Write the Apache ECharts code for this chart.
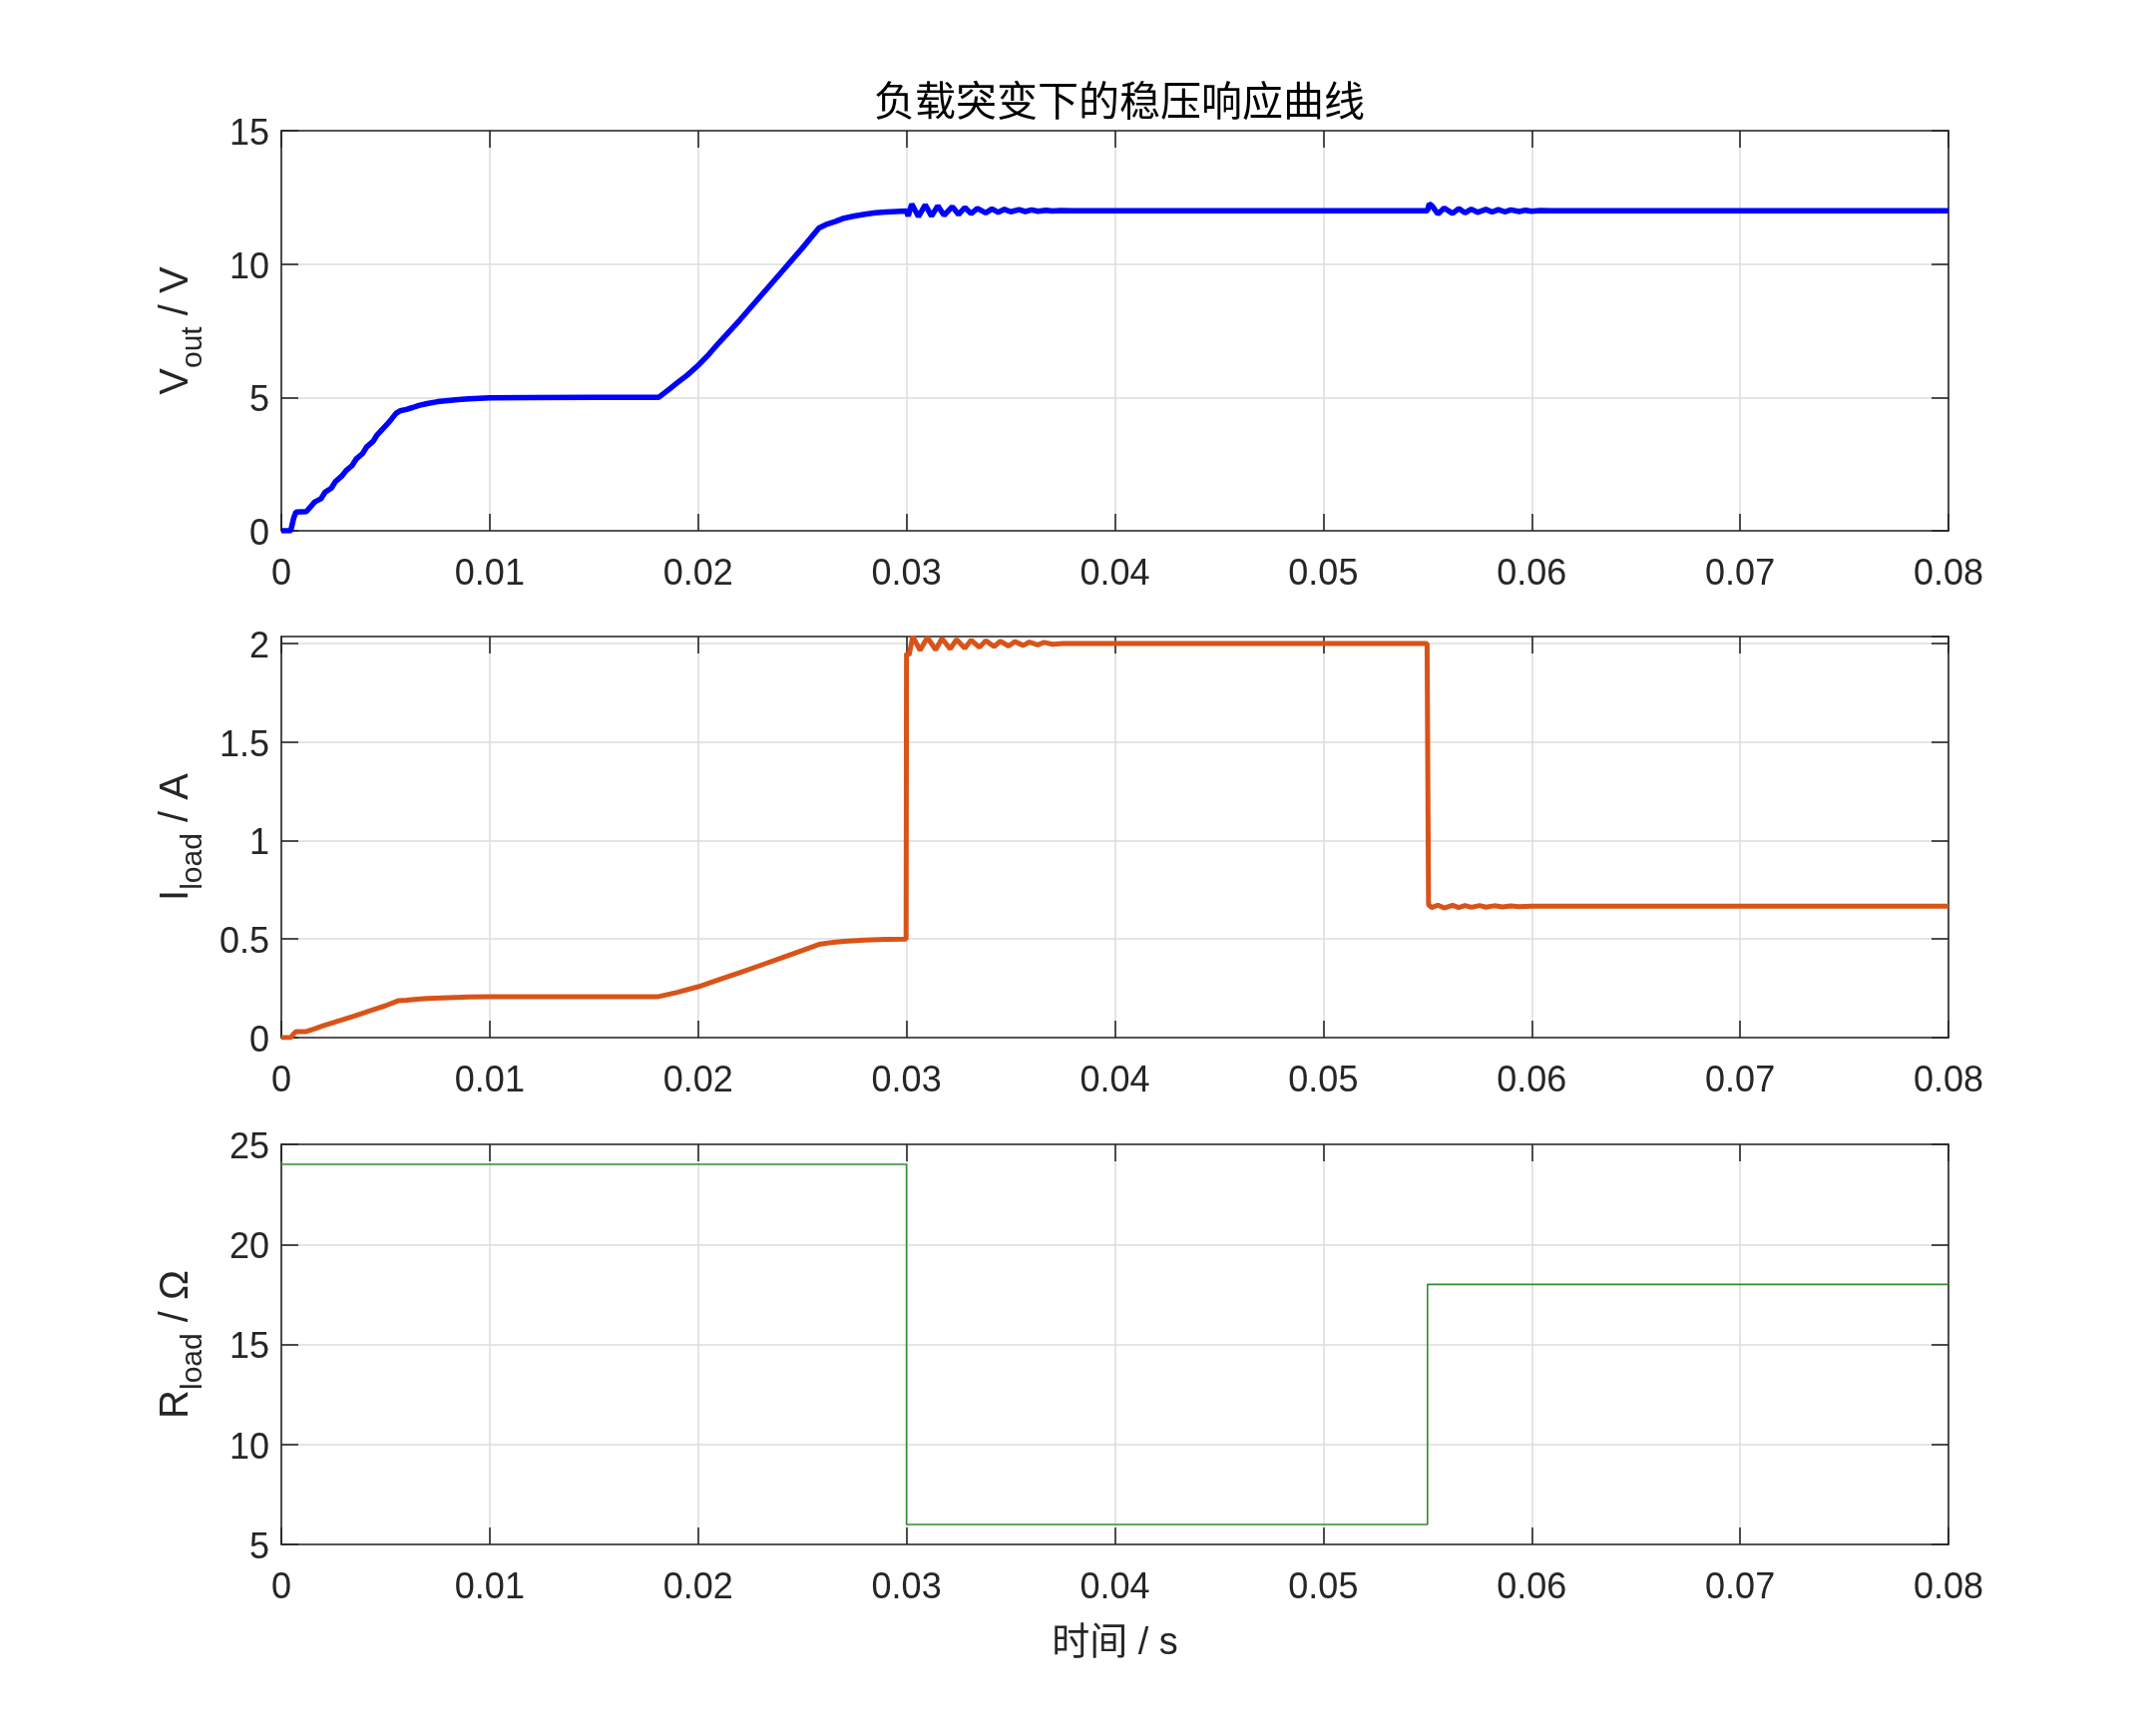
<!DOCTYPE html>
<html>
<head>
<meta charset="utf-8">
<script src="https://cdn.jsdelivr.net/npm/echarts@6/dist/echarts.min.js"></script>
<style>html,body{margin:0;padding:0;background:#fff;}#c{width:2160px;height:1740px;}</style>
</head>
<body>
<div id="c"></div>
<script>
// ---- data (time in s) ----
const titleText = '负载突变下的稳压响应曲线';
const xTicks = [0, 0.01, 0.02, 0.03, 0.04, 0.05, 0.06, 0.07, 0.08];

const tV = [0, 0.00045, 0.0006, 0.0007, 0.0012, 0.0014, 0.0016, 0.0019, 0.0021, 0.0024, 0.0026, 0.0029, 0.0031, 0.0034, 0.0036, 0.0039, 0.0041, 0.0044, 0.0046, 0.0049, 0.0052, 0.0055, 0.0057, 0.006, 0.0063, 0.0066, 0.007, 0.0075, 0.008, 0.0085, 0.009, 0.0095, 0.01, 0.012, 0.015, 0.0181,
  0.0186, 0.019, 0.0195, 0.02, 0.0205, 0.021, 0.022, 0.023, 0.024, 0.025, 0.0258, 0.0262, 0.0266, 0.027, 0.0275, 0.028, 0.0285, 0.029, 0.0295, 0.03,
  0.03008, 0.03025, 0.03057, 0.0309, 0.0312, 0.0315, 0.0318, 0.0322, 0.0325, 0.0328, 0.0331, 0.0334, 0.0338, 0.0341, 0.0344, 0.0347, 0.035, 0.0354, 0.0357, 0.036, 0.0363, 0.0367, 0.037, 0.0374, 0.038, 0.045, 0.055,
  0.05508, 0.0552, 0.0555, 0.0558, 0.0562, 0.0565, 0.0568, 0.0571, 0.0574, 0.0578, 0.0581, 0.0584, 0.0587, 0.059, 0.0594, 0.0597, 0.06, 0.0604, 0.061, 0.07, 0.08];
const vOut = [0, 0, 0.5, 0.7, 0.72, 0.9, 1.08, 1.2, 1.45, 1.6, 1.85, 2.05, 2.25, 2.45, 2.7, 2.9, 3.15, 3.35, 3.6, 3.85, 4.1, 4.4, 4.5, 4.55, 4.62, 4.7, 4.77, 4.84, 4.88, 4.92, 4.95, 4.97, 4.98, 4.99, 5.0, 5.0,
  5.3, 5.55, 5.85, 6.2, 6.6, 7.05, 7.9, 8.8, 9.7, 10.6, 11.35, 11.5, 11.6, 11.72, 11.8, 11.87, 11.92, 11.95, 11.97, 11.99,
  11.8, 12.25, 11.78, 12.22, 11.8, 12.18, 11.83, 12.15, 11.86, 12.12, 11.89, 12.09, 11.92, 12.07, 11.94, 12.05, 11.96, 12.04, 11.97, 12.03, 11.98, 12.02, 11.99, 12.01, 12, 12, 12,
  12.25, 12.2, 11.88, 12.1, 11.9, 12.08, 11.92, 12.06, 11.94, 12.05, 11.95, 12.04, 11.96, 12.03, 11.97, 12.02, 11.98, 12.01, 12, 12, 12];

const tI = [0, 0.00045, 0.0006, 0.0007, 0.0012, 0.0016, 0.002, 0.0025, 0.003, 0.0035, 0.004, 0.0045, 0.005, 0.0056, 0.006, 0.0065, 0.007, 0.008, 0.009, 0.01, 0.015, 0.0181,
  0.019, 0.02, 0.021, 0.022, 0.023, 0.024, 0.025, 0.0258, 0.0265, 0.027, 0.028, 0.029, 0.02998,
  0.03, 0.03012, 0.0303, 0.03065, 0.031, 0.0314, 0.0317, 0.0321, 0.0324, 0.0328, 0.0331, 0.0335, 0.0338, 0.0342, 0.0345, 0.0349, 0.0352, 0.0356, 0.0359, 0.0363, 0.0366, 0.037, 0.0375, 0.04, 0.05, 0.05498,
  0.05505, 0.0552, 0.0555, 0.0558, 0.0562, 0.0565, 0.0568, 0.0571, 0.0575, 0.0578, 0.0582, 0.0586, 0.059, 0.0594, 0.06, 0.07, 0.08];
const iLoad = [0, 0, 0.02, 0.03, 0.031, 0.045, 0.06, 0.077, 0.093, 0.11, 0.127, 0.145, 0.162, 0.187, 0.19, 0.195, 0.199, 0.203, 0.206, 0.207, 0.208, 0.208,
  0.23, 0.258, 0.294, 0.33, 0.367, 0.404, 0.442, 0.473, 0.484, 0.488, 0.495, 0.498, 0.5,
  1.95, 1.94, 2.035, 1.965, 2.03, 1.968, 2.025, 1.972, 2.02, 1.976, 2.017, 1.98, 2.014, 1.984, 2.011, 1.987, 2.009, 1.99, 2.007, 1.993, 2.005, 1.996, 2.0, 2.0, 2.0, 2.0,
  0.675, 0.66, 0.672, 0.658, 0.671, 0.66, 0.67, 0.661, 0.67, 0.662, 0.669, 0.663, 0.668, 0.664, 0.667, 0.667, 0.667];

const tR = [0, 0.03, 0.03, 0.055, 0.055, 0.08];
const rLoad = [24, 24, 6, 6, 18, 18];

const zip = (a, b) => a.map((t, i) => [t, b[i]]);

// ---- styling ----
const LAT = '"Liberation Sans", Arial, sans-serif';
const CJK = '"Liberation Sans", "Noto Sans CJK SC", sans-serif';
const INK = '#262626';
const grids = [
  { left: 282, top: 131, width: 1671, height: 401 },
  { left: 282, top: 638, width: 1671, height: 402 },
  { left: 282, top: 1147, width: 1671, height: 401 }
];

function xMain(gi, showName) {
  return {
    type: 'value', gridIndex: gi, position: 'bottom', min: 0, max: 0.08, interval: 0.01,
    axisLine: { show: true, onZero: false, lineStyle: { color: INK, width: 1.6 } },
    axisTick: { show: true, inside: true, length: 17, lineStyle: { color: INK, width: 1.6 } },
    axisLabel: { show: true, margin: 26, fontSize: 36, fontFamily: LAT, color: INK,
      formatter: v => String(parseFloat(v.toFixed(3))) },
    splitLine: { show: true, lineStyle: { color: '#dcdcdc', width: 1.5 } },
    name: showName ? '时间 / s' : '', nameLocation: 'middle', nameGap: 81,
    nameTextStyle: { fontSize: 38, fontFamily: CJK, color: INK }
  };
}
function xTop(gi) {
  return {
    type: 'value', gridIndex: gi, position: 'top', min: 0, max: 0.08, interval: 0.01,
    axisLine: { show: true, onZero: false, lineStyle: { color: INK, width: 1.6 } },
    axisTick: { show: true, inside: true, length: 17, lineStyle: { color: INK, width: 1.6 } },
    axisLabel: { show: false }, splitLine: { show: false }
  };
}
function yMain(gi, min, max, interval, name, hideMax) {
  return {
    type: 'value', gridIndex: gi, position: 'left', min, max, interval,
    axisLine: { show: true, onZero: false, lineStyle: { color: INK, width: 1.6 } },
    axisTick: { show: true, inside: true, length: 17, lineStyle: { color: INK, width: 1.6 } },
    axisLabel: { show: true, margin: 12, fontSize: 36, fontFamily: LAT, color: INK, showMaxLabel: !hideMax,
      verticalAlign: 'top', lineHeight: 36, padding: [-14, 0, 0, 0] },
    splitLine: { show: true, lineStyle: { color: '#dcdcdc', width: 1.5 } },
    name: name, nameLocation: 'middle', nameRotate: 90, nameGap: 73,
    nameTextStyle: {
      fontFamily: LAT, color: INK, fontSize: 40,
      rich: {
        a: { fontSize: 40, fontFamily: LAT, color: INK, padding: [0, 0, 12, 0], verticalAlign: 'bottom' },
        b: { fontSize: 30, fontFamily: LAT, color: INK, verticalAlign: 'bottom' }
      }
    }
  };
}
function yRight(gi, min, max, interval) {
  return {
    type: 'value', gridIndex: gi, position: 'right', min, max, interval,
    axisLine: { show: true, onZero: false, lineStyle: { color: INK, width: 1.6 } },
    axisTick: { show: true, inside: true, length: 17, lineStyle: { color: INK, width: 1.6 } },
    axisLabel: { show: false }, splitLine: { show: false }
  };
}

const option = {
  animation: false,
  backgroundColor: '#ffffff',
  title: {
    text: titleText, left: 1117, top: 75, textAlign: 'center',
    textStyle: { fontSize: 41, fontWeight: 'normal', fontFamily: '"Noto Sans CJK SC", sans-serif', color: '#000' }
  },
  grid: grids,
  xAxis: [xMain(0, false), xMain(1, false), xMain(2, true), xTop(0), xTop(1), xTop(2)],
  yAxis: [
    yMain(0, 0, 15, 5, '{a|V}{b|out}{a| / V}', false),
    yMain(1, 0, 2.035, 0.5, '{a|I}{b|load}{a| / A}', true),
    yMain(2, 5, 25, 5, '{a|R}{b|load}{a| / Ω}', false),
    yRight(0, 0, 15, 5), yRight(1, 0, 2.035, 0.5), yRight(2, 5, 25, 5)
  ],
  series: [
    { type: 'line', xAxisIndex: 0, yAxisIndex: 0, data: zip(tV, vOut), showSymbol: false,
      lineStyle: { color: '#0000ff', width: 5.5 }, itemStyle: { color: '#0000ff' }, z: 5 },
    { type: 'line', xAxisIndex: 1, yAxisIndex: 1, data: zip(tI, iLoad), showSymbol: false,
      lineStyle: { color: '#d95319', width: 5 }, itemStyle: { color: '#d95319' }, z: 5 },
    { type: 'line', xAxisIndex: 2, yAxisIndex: 2, data: zip(tR, rLoad), showSymbol: false,
      lineStyle: { color: '#2e8f2e', width: 1.6 }, itemStyle: { color: '#2e8f2e' }, z: 5 }
  ]
};
const chart = echarts.init(document.getElementById('c'), null, { renderer: 'canvas' });
chart.setOption(option);
</script>
</body>
</html>
